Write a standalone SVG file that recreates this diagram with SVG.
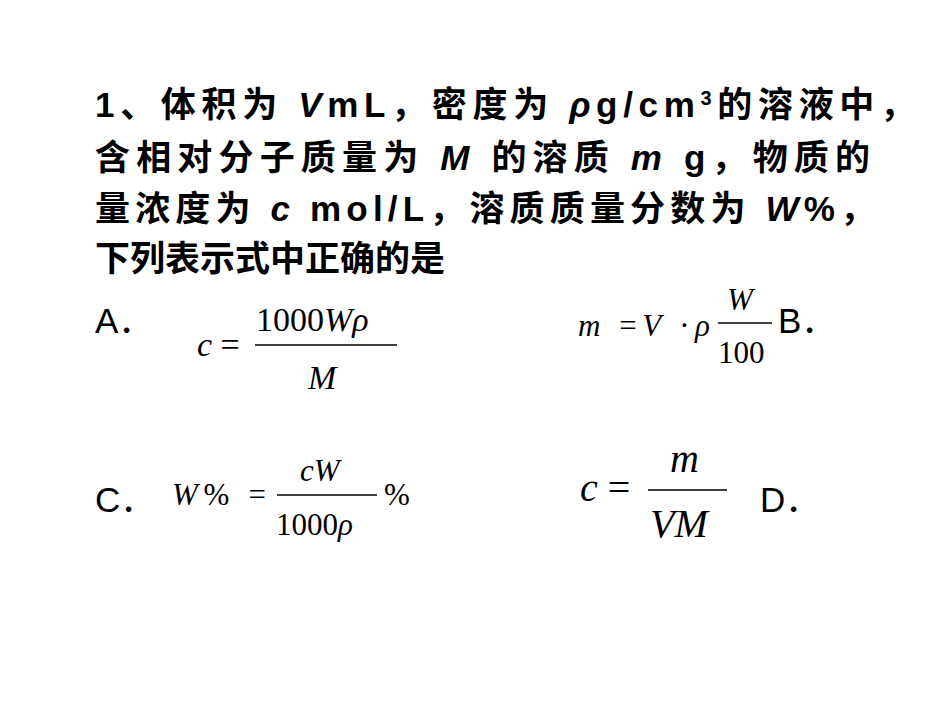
<svg xmlns="http://www.w3.org/2000/svg" width="950" height="713" viewBox="0 0 950 713">
<style>
.t{font-family:"Liberation Sans","Noto Sans CJK SC",sans-serif;font-size:35px;font-weight:bold;fill:#000}
.i{font-style:italic}
.m{font-family:"Liberation Serif",serif;font-style:italic;font-size:34px;fill:#000}
.n{font-style:normal}
line{stroke:#000;stroke-width:1.5}
</style>
<rect width="950" height="713" fill="#fff"/>
<text class="t" x="95" y="117" textLength="820">1、体积为 <tspan class="i">V</tspan>mL，密度为 <tspan class="i">ρ</tspan>g/cm<tspan style="font-size:20px" dy="-12">3</tspan><tspan dy="12">的溶液中，</tspan></text>
<text class="t" x="95" y="170" textLength="775">含相对分子质量为 <tspan class="i">M</tspan> 的溶质 <tspan class="i">m</tspan> g，物质的</text>
<text class="t" x="95" y="221" textLength="780">量浓度为 <tspan class="i">c</tspan> mol/L，溶质质量分数为 <tspan class="i">W</tspan>%，</text>
<text class="t" x="95" y="271">下列表示式中正确的是</text>
<text class="t" x="95" y="333" style="font-weight:normal">A．</text>
<text class="m" x="197" y="356">c <tspan class="n">=</tspan></text>
<text class="m" x="256" y="331"><tspan class="n">1000</tspan>Wρ</text>
<line x1="255" y1="345" x2="397" y2="345"/>
<text class="m" x="308" y="389">M</text>
<text class="m" x="578" y="336" style="font-size:31px" textLength="132">m <tspan class="n">=</tspan>V <tspan class="n">·</tspan>ρ</text>
<text class="m" x="727" y="310" style="font-size:31px">W</text>
<line x1="718" y1="323" x2="772" y2="323"/>
<text class="m" x="718" y="363" style="font-size:31px"><tspan class="n">100</tspan></text>
<text class="t" x="778" y="333" style="font-weight:normal">B．</text>
<text class="t" x="95" y="512" style="font-weight:normal">C．</text>
<text class="m" x="172" y="505" style="font-size:31px" textLength="94">W<tspan class="n">% =</tspan></text>
<text class="m" x="300" y="481" style="font-size:31px">cW</text>
<line x1="277" y1="495" x2="377" y2="495"/>
<text class="m" x="276" y="535" style="font-size:31px"><tspan class="n">1000</tspan>ρ</text>
<text class="m" x="384" y="505" style="font-size:31px"><tspan class="n">%</tspan></text>
<text class="m" x="580" y="501" style="font-size:40px">c <tspan class="n">=</tspan></text>
<text class="m" x="670" y="472" style="font-size:40px">m</text>
<line x1="648" y1="490" x2="727" y2="490"/>
<text class="m" x="650" y="537" style="font-size:40px">VM</text>
<text class="t" x="760" y="512" style="font-weight:normal">D．</text>
</svg>
